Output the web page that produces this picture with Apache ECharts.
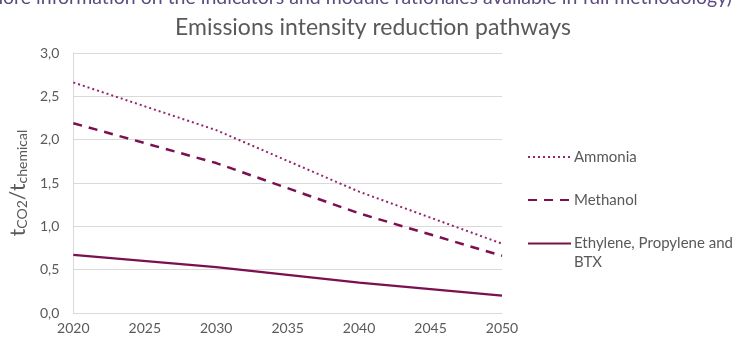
<!DOCTYPE html>
<html><head><meta charset="utf-8">
<script src="https://cdn.jsdelivr.net/npm/echarts@6/dist/echarts.min.js"></script>
<style>html,body{margin:0;padding:0;background:#fff}#c{width:749px;height:341px}</style>
</head><body><div id="c"></div>
<script>
const years = [2020, 2030, 2040, 2050];
const ammonia = [2.66, 2.11, 1.40, 0.80];
const methanol = [2.19, 1.73, 1.15, 0.66];
const ethylene = [0.67, 0.53, 0.35, 0.20];
const seriesNames = ['Ammonia', 'Methanol', 'Ethylene, Propylene and BTX'];

const pairs = v => years.map((y, i) => [y, v[i]]);
const font = 'Lato, "Open Sans", sans-serif';
const grey = '#595959';
const col = '#7B0F4F';

const chart = echarts.init(document.getElementById('c'));
chart.setOption({
  animation: false,
  textStyle: { fontFamily: font },
  graphic: [{
    type: 'text', left: -13, top: -12,
    style: { text: 'more information on the indicators and module rationales available in full methodology)',
      fill: '#5B4B7E', font: '19.5px ' + font }
  }],
  title: {
    text: 'Emissions intensity reduction pathways',
    left: 368, textAlign: 'center', top: 11,
    textStyle: { fontFamily: font, fontSize: 23, fontWeight: 'normal', color: grey }
  },
  legend: [{
    orient: 'vertical', left: 527, top: 149, padding: 0, itemWidth: 43, itemHeight: 20, itemGap: 27,
    data: [seriesNames[0], seriesNames[1]],
    itemStyle: { opacity: 0 },
    textStyle: { fontFamily: font, fontSize: 15, color: grey, padding: [0, 0, 0, -2] }
  }, {
    orient: 'vertical', left: 527, top: 215, padding: 0, itemWidth: 43, itemHeight: 20,
    data: [seriesNames[2]],
    itemStyle: { opacity: 0 },
    formatter: () => '\u00a0\nEthylene, Propylene and\nBTX',
    textStyle: { fontFamily: font, fontSize: 15, color: grey, lineHeight: 19, padding: [0, 0, 0, -2] }
  }],
  grid: { left: 72, right: 247, top: 53, bottom: 28 },
  xAxis: {
    type: 'value', min: 2020, max: 2050, interval: 5,
    axisLine: { show: true, lineStyle: { color: '#D9D9D9', width: 1 } },
    axisTick: { show: false },
    splitLine: { show: false },
    axisLabel: { color: grey, fontSize: 14, fontFamily: font, margin: 8, formatter: v => String(v) }
  },
  yAxis: {
    type: 'value', min: 0, max: 3, interval: 0.5,
    axisLine: { show: true, lineStyle: { color: '#D9D9D9', width: 1 } },
    axisTick: { show: false },
    splitLine: { lineStyle: { color: '#D9D9D9', width: 1 } },
    axisLabel: { color: grey, fontSize: 14, fontFamily: font, margin: 14,
      formatter: v => v.toFixed(1).replace('.', ',') },
    name: '{t|t}{s|CO2}{t|/t}{s|chemical}',
    nameLocation: 'middle', nameRotate: 90, nameGap: 43,
    nameTextStyle: {
      rich: {
        t: { fontSize: 21, color: grey, fontFamily: font, verticalAlign: 'bottom', lineHeight: 22 },
        s: { fontSize: 14, color: grey, fontFamily: font, verticalAlign: 'bottom', lineHeight: 16 }
      }
    }
  },
  series: [
    { name: seriesNames[0], type: 'line', data: pairs(ammonia), symbol: 'none',
      lineStyle: { color: '#94266A', width: 2, type: [2, 3] }, itemStyle: { color: '#94266A' } },
    { name: seriesNames[1], type: 'line', data: pairs(methanol), symbol: 'none',
      lineStyle: { color: col, width: 2.5, type: [9, 7] }, itemStyle: { color: col } },
    { name: seriesNames[2], type: 'line', data: pairs(ethylene), symbol: 'none',
      lineStyle: { color: col, width: 2.2, type: 'solid' }, itemStyle: { color: col } }
  ]
});
</script></body></html>
